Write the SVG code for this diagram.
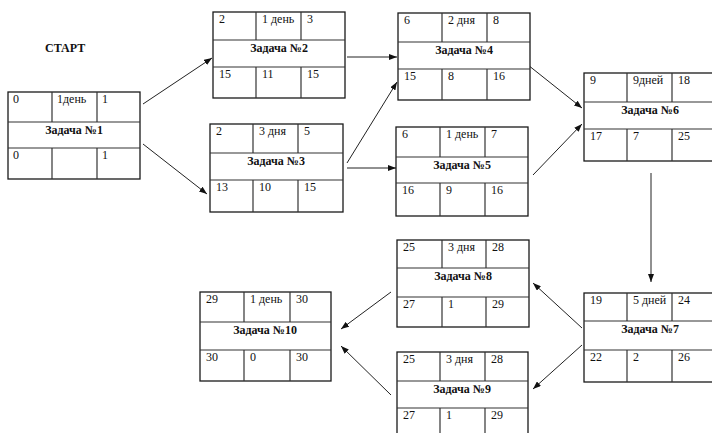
<svg xmlns="http://www.w3.org/2000/svg" width="712" height="433" viewBox="0 0 712 433">
<style>
.box{fill:#fff;stroke:#1a1a1a;stroke-width:1.3}
.ln{stroke:#333;stroke-width:1.2}
.t{font-family:"Liberation Serif","Times New Roman",serif;font-size:12px;fill:#111}
.b{font-family:"Liberation Serif","Times New Roman",serif;font-size:12px;font-weight:bold;fill:#111;text-anchor:middle}
.c{stroke:#222;stroke-width:1;fill:none;marker-end:url(#ah)}
</style>
<defs>
<marker id="ah" markerUnits="userSpaceOnUse" markerWidth="8" markerHeight="6" refX="8" refY="3" orient="auto">
<path d="M0,0 L8,3 L0,6 z" fill="#111"/>
</marker>
</defs>
<rect width="712" height="433" fill="#fff"/>
<text x="45" y="52" class="b" style="text-anchor:start">СТАРТ</text>

<g id="connectors">
<line class="c" x1="143" y1="104" x2="212" y2="58"/>
<line class="c" x1="143" y1="144" x2="207" y2="194"/>
<line class="c" x1="347" y1="57" x2="397" y2="57"/>
<line class="c" x1="347" y1="163" x2="397" y2="82"/>
<line class="c" x1="347" y1="168" x2="396" y2="168"/>
<line class="c" x1="528" y1="65" x2="582" y2="108"/>
<line class="c" x1="533" y1="175" x2="582" y2="124"/>
<line class="c" x1="651" y1="173" x2="651" y2="282"/>
<line class="c" x1="582" y1="328" x2="533" y2="283"/>
<line class="c" x1="582" y1="345" x2="533" y2="389"/>
<line class="c" x1="391" y1="292" x2="341" y2="329"/>
<line class="c" x1="391" y1="395" x2="341" y2="346"/>
</g>

<g id="task1">
<rect class="box" x="8" y="92" width="132" height="87"/>
<line class="ln" x1="8" y1="122" x2="140" y2="122"/>
<line class="ln" x1="8" y1="148" x2="140" y2="148"/>
<line class="ln" x1="52" y1="92" x2="52" y2="122"/>
<line class="ln" x1="97" y1="92" x2="97" y2="122"/>
<line class="ln" x1="52" y1="148" x2="52" y2="179"/>
<line class="ln" x1="97" y1="148" x2="97" y2="179"/>
<text class="t" x="13" y="103">0</text><text class="t" x="57" y="103">1день</text><text class="t" x="102" y="103">1</text>
<text class="b" x="74" y="134">Задача №1</text>
<text class="t" x="13" y="159">0</text><text class="t" x="102" y="159">1</text>
</g>

<g id="task2">
<rect class="box" x="213" y="12" width="132" height="86"/>
<line class="ln" x1="213" y1="40" x2="345" y2="40"/>
<line class="ln" x1="213" y1="67" x2="345" y2="67"/>
<line class="ln" x1="256" y1="12" x2="256" y2="40"/>
<line class="ln" x1="301" y1="12" x2="301" y2="40"/>
<line class="ln" x1="256" y1="67" x2="256" y2="98"/>
<line class="ln" x1="301" y1="67" x2="301" y2="98"/>
<text class="t" x="219" y="23">2</text><text class="t" x="262" y="23">1 день</text><text class="t" x="307" y="23">3</text>
<text class="b" x="279" y="52">Задача №2</text>
<text class="t" x="219" y="78">15</text><text class="t" x="262" y="78">11</text><text class="t" x="307" y="78">15</text>
</g>

<g id="task3">
<rect class="box" x="210" y="124" width="133" height="88"/>
<line class="ln" x1="210" y1="153" x2="343" y2="153"/>
<line class="ln" x1="210" y1="180" x2="343" y2="180"/>
<line class="ln" x1="253" y1="124" x2="253" y2="153"/>
<line class="ln" x1="298" y1="124" x2="298" y2="153"/>
<line class="ln" x1="253" y1="180" x2="253" y2="212"/>
<line class="ln" x1="298" y1="180" x2="298" y2="212"/>
<text class="t" x="216" y="135">2</text><text class="t" x="259" y="135">3 дня</text><text class="t" x="304" y="135">5</text>
<text class="b" x="276" y="165">Задача №3</text>
<text class="t" x="216" y="191">13</text><text class="t" x="259" y="191">10</text><text class="t" x="304" y="191">15</text>
</g>

<g id="task4">
<rect class="box" x="398" y="13" width="132" height="87"/>
<line class="ln" x1="398" y1="42" x2="530" y2="42"/>
<line class="ln" x1="398" y1="69" x2="530" y2="69"/>
<line class="ln" x1="442" y1="13" x2="442" y2="42"/>
<line class="ln" x1="487" y1="13" x2="487" y2="42"/>
<line class="ln" x1="442" y1="69" x2="442" y2="100"/>
<line class="ln" x1="487" y1="69" x2="487" y2="100"/>
<text class="t" x="404" y="24">6</text><text class="t" x="448" y="24">2 дня</text><text class="t" x="493" y="24">8</text>
<text class="b" x="464" y="54">Задача №4</text>
<text class="t" x="404" y="80">15</text><text class="t" x="448" y="80">8</text><text class="t" x="493" y="80">16</text>
</g>

<g id="task5">
<rect class="box" x="396" y="127" width="132" height="89"/>
<line class="ln" x1="396" y1="157" x2="528" y2="157"/>
<line class="ln" x1="396" y1="183" x2="528" y2="183"/>
<line class="ln" x1="440" y1="127" x2="440" y2="157"/>
<line class="ln" x1="485" y1="127" x2="485" y2="157"/>
<line class="ln" x1="440" y1="183" x2="440" y2="216"/>
<line class="ln" x1="485" y1="183" x2="485" y2="216"/>
<text class="t" x="402" y="138">6</text><text class="t" x="446" y="138">1 день</text><text class="t" x="491" y="138">7</text>
<text class="b" x="462" y="169">Задача №5</text>
<text class="t" x="402" y="194">16</text><text class="t" x="446" y="194">9</text><text class="t" x="491" y="194">16</text>
</g>

<g id="task6">
<rect class="box" x="584" y="73" width="132" height="88"/>
<line class="ln" x1="584" y1="102" x2="716" y2="102"/>
<line class="ln" x1="584" y1="129" x2="716" y2="129"/>
<line class="ln" x1="627" y1="73" x2="627" y2="102"/>
<line class="ln" x1="672" y1="73" x2="672" y2="102"/>
<line class="ln" x1="627" y1="129" x2="627" y2="161"/>
<line class="ln" x1="672" y1="129" x2="672" y2="161"/>
<text class="t" x="590" y="84">9</text><text class="t" x="633" y="84">9дней</text><text class="t" x="678" y="84">18</text>
<text class="b" x="650" y="114">Задача №6</text>
<text class="t" x="590" y="140">17</text><text class="t" x="633" y="140">7</text><text class="t" x="678" y="140">25</text>
</g>

<g id="task7">
<rect class="box" x="584" y="293" width="132" height="89"/>
<line class="ln" x1="584" y1="321" x2="716" y2="321"/>
<line class="ln" x1="584" y1="350" x2="716" y2="350"/>
<line class="ln" x1="627" y1="293" x2="627" y2="321"/>
<line class="ln" x1="672" y1="293" x2="672" y2="321"/>
<line class="ln" x1="627" y1="350" x2="627" y2="382"/>
<line class="ln" x1="672" y1="350" x2="672" y2="382"/>
<text class="t" x="590" y="304">19</text><text class="t" x="633" y="304">5 дней</text><text class="t" x="678" y="304">24</text>
<text class="b" x="650" y="333">Задача №7</text>
<text class="t" x="590" y="361">22</text><text class="t" x="633" y="361">2</text><text class="t" x="678" y="361">26</text>
</g>

<g id="task8">
<rect class="box" x="397" y="240" width="132" height="87"/>
<line class="ln" x1="397" y1="268" x2="529" y2="268"/>
<line class="ln" x1="397" y1="297" x2="529" y2="297"/>
<line class="ln" x1="442" y1="240" x2="442" y2="268"/>
<line class="ln" x1="486" y1="240" x2="486" y2="268"/>
<line class="ln" x1="442" y1="297" x2="442" y2="327"/>
<line class="ln" x1="486" y1="297" x2="486" y2="327"/>
<text class="t" x="403" y="251">25</text><text class="t" x="448" y="251">3 дня</text><text class="t" x="492" y="251">28</text>
<text class="b" x="463" y="280">Задача №8</text>
<text class="t" x="403" y="308">27</text><text class="t" x="448" y="308">1</text><text class="t" x="492" y="308">29</text>
</g>

<g id="task9">
<rect class="box" x="397" y="352" width="131" height="90"/>
<line class="ln" x1="397" y1="381" x2="528" y2="381"/>
<line class="ln" x1="397" y1="408" x2="528" y2="408"/>
<line class="ln" x1="440" y1="352" x2="440" y2="381"/>
<line class="ln" x1="485" y1="352" x2="485" y2="381"/>
<line class="ln" x1="440" y1="408" x2="440" y2="442"/>
<line class="ln" x1="485" y1="408" x2="485" y2="442"/>
<text class="t" x="403" y="363">25</text><text class="t" x="446" y="363">3 дня</text><text class="t" x="491" y="363">28</text>
<text class="b" x="462" y="393">Задача №9</text>
<text class="t" x="403" y="419">27</text><text class="t" x="446" y="419">1</text><text class="t" x="491" y="419">29</text>
</g>

<g id="task10">
<rect class="box" x="200" y="292" width="131" height="89"/>
<line class="ln" x1="200" y1="322" x2="331" y2="322"/>
<line class="ln" x1="200" y1="350" x2="331" y2="350"/>
<line class="ln" x1="244" y1="292" x2="244" y2="322"/>
<line class="ln" x1="290" y1="292" x2="290" y2="322"/>
<line class="ln" x1="244" y1="350" x2="244" y2="381"/>
<line class="ln" x1="290" y1="350" x2="290" y2="381"/>
<text class="t" x="206" y="303">29</text><text class="t" x="250" y="303">1 день</text><text class="t" x="296" y="303">30</text>
<text class="b" x="265" y="334">Задача №10</text>
<text class="t" x="206" y="361">30</text><text class="t" x="250" y="361">0</text><text class="t" x="296" y="361">30</text>
</g>
</svg>
